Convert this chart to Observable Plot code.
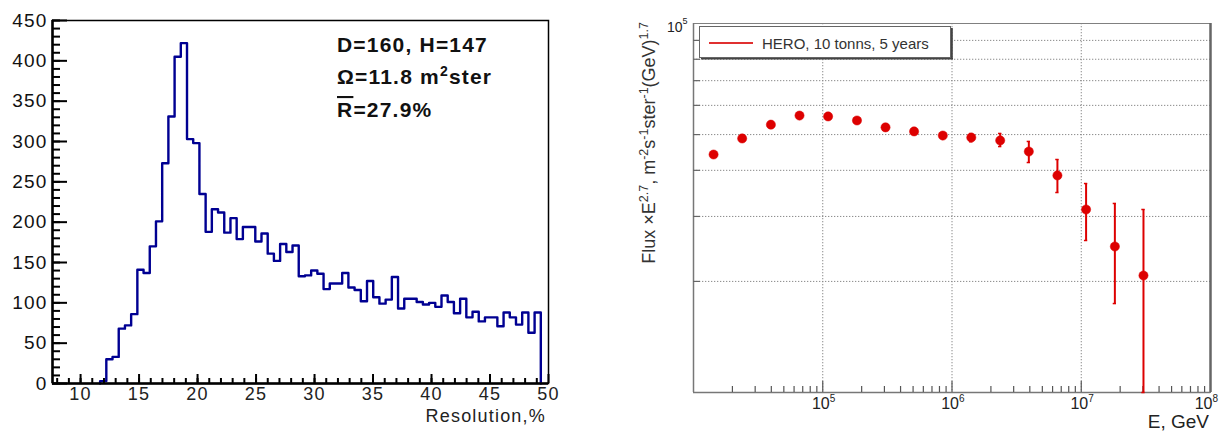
<!DOCTYPE html>
<html>
<head>
<meta charset="utf-8">
<script src="https://cdn.jsdelivr.net/npm/d3@7"></script>
<script src="https://cdn.jsdelivr.net/npm/@observablehq/plot@0.6"></script>
<style>
  body { margin: 0; background: #fff; width: 1220px; height: 432px; overflow: hidden; position: relative; }
  #left { position: absolute; left: 0; top: 0; }
  #right { position: absolute; left: 600px; top: 0; }
  #left svg text { letter-spacing: 1.2px; }
  svg { overflow: visible; }
</style>
</head>
<body>
<div id="left"></div>
<div id="right"></div>
<script>
// ---------- Resolution histogram ----------
const binStart = 11.67;   // lower edge of the first filled bin, %
const binWidth = 0.5306;  // bin width, %
const counts = [3, 30, 33, 68, 72, 86, 141, 137, 170, 201, 273, 331, 405, 422, 303, 298, 235, 188,
  216, 212, 187, 205, 179, 194, 194, 176, 186, 161, 152, 173, 163, 171, 133, 134, 140, 136, 117,
  124, 124, 137, 119, 116, 102, 127, 107, 99, 104, 132, 93, 105, 105, 101, 98, 100, 95, 109, 101,
  87, 105, 82, 89, 77, 82, 82, 71, 88, 82, 73, 88, 63, 88];
const histYTicks = [0, 50, 100, 150, 200, 250, 300, 350, 400, 450];
const histXTicks = [10, 15, 20, 25, 30, 35, 40, 45, 50];
const histXTitle = "Resolution,%";

// ---------- Flux spectrum ----------
const energy = [1.43e4, 2.38e4, 3.97e4, 6.61e4, 1.10e5, 1.84e5, 3.06e5, 5.09e5, 8.49e5,
  1.41e6, 2.36e6, 3.93e6, 6.54e6, 1.09e7, 1.82e7, 3.03e7];
const flux   = [44150, 48800, 53200, 56300, 56000, 54600, 52300, 51000, 49700,
  49100, 48200, 44980, 38750, 31330, 24870, 20750];
const fluxLo = [43700, 48300, 52700, 55800, 55400, 54000, 51700, 50300, 48900,
  47800, 46400, 42000, 34830, 25820, 17420, 10000];
const fluxHi = [44600, 49300, 53700, 56900, 56600, 55200, 52900, 51700, 50500,
  50300, 50350, 47900, 42800, 36840, 32530, 31330];
const energyLabelTicks = [1e5, 1e6, 1e7, 1e8];
const fluxGrid = [2e4, 3e4, 4e4, 5e4, 6e4, 7e4, 8e4, 9e4];
const legendLabel = "HERO, 10 tonns, 5 years";

const FONT = "Liberation Sans, Arial, Helvetica, sans-serif";

// ======== left panel ========
{
  const W = 560, H = 432, mL = 52, mR = 12, mT = 20, mB = 49;
  const pw = W - mL - mR, ph = H - mT - mB;
  const xDom = [7.6, 50];
  const end = binStart + counts.length * binWidth;
  const pts = [{x: binStart, y: 0}]
    .concat(counts.map((c, i) => ({x: binStart + i * binWidth, y: c})))
    .concat([{x: end, y: 0}]);
  const yMinor = d3.range(0, 451, 10);
  const xMinor = d3.range(8, 50, 1);

  const chart = Plot.plot({
    width: W, height: H,
    marginLeft: mL, marginRight: mR, marginTop: mT, marginBottom: mB,
    style: {fontFamily: FONT, background: "transparent", color: "#111"},
    x: {domain: xDom, axis: null},
    y: {domain: [0, 450], axis: null},
    marks: [
      Plot.frame({stroke: "#000", strokeWidth: 1.5}),
      Plot.lineY(pts, {x: "x", y: "y", curve: "step-after", stroke: "#000092", strokeWidth: 2.4}),
      Plot.ruleX([xDom[0]], {stroke: "#000", strokeWidth: 2.5}),
      Plot.ruleY([0], {stroke: "#000", strokeWidth: 2.5}),
      Plot.tickY(histYTicks, {y: d => d, insetRight: pw - 15, stroke: "#000", strokeWidth: 2}),
      Plot.tickY(yMinor, {y: d => d, insetRight: pw - 8, stroke: "#000", strokeWidth: 2}),
      Plot.tickX(histXTicks, {x: d => d, insetTop: ph - 9, stroke: "#000", strokeWidth: 2}),
      Plot.tickX(xMinor, {x: d => d, insetTop: ph - 5, stroke: "#000", strokeWidth: 2}),
      Plot.axisY(histYTicks, {anchor: "left", tickSize: 0, tickPadding: 5, fontSize: 19, fill: "#111", label: null}),
      Plot.axisX(histXTicks, {anchor: "bottom", tickSize: 0, tickPadding: 4, fontSize: 18, fill: "#222", label: null})
    ]
  });
  document.getElementById("left").appendChild(chart);

  const svg = d3.select(chart);
  svg.append("text")
    .attr("x", 546).attr("y", 422)
    .attr("text-anchor", "end")
    .attr("font-family", FONT).attr("font-size", 18).attr("fill", "#222")
    .text(histXTitle);

  const note = svg.append("g")
    .attr("text-anchor", "start")
    .attr("font-family", FONT).attr("font-size", 21).attr("font-weight", "bold").attr("fill", "#111");
  note.append("text").attr("x", 337).attr("y", 52).text("D=160, H=147");
  const l2 = note.append("text").attr("x", 337).attr("y", 84);
  l2.append("tspan").text("Ω=11.8 m");
  l2.append("tspan").attr("dy", -8).attr("font-size", 14).text("2");
  l2.append("tspan").attr("dy", 8).text("ster");
  const l3 = note.append("text").attr("x", 337).attr("y", 117);
  l3.append("tspan").attr("style", "text-decoration: overline").text("R");
  l3.append("tspan").text("=27.9%");
}

// ======== right panel ========
{
  const W = 620, H = 432, mL = 93, mR = 10, mT = 23, mB = 40;
  const pw = W - mL - mR, ph = H - mT - mB;
  const red = "#dd0000";
  const spec = energy.map((e, i) => ({e, f: flux[i], lo: fluxLo[i], hi: fluxHi[i]}));
  const decades = [1e4, 1e5, 1e6, 1e7];
  const xMinor = [];
  for (const d of decades) for (let k = 2; k <= 9; k++) xMinor.push(k * d);
  const grid = {stroke: "#8a8a8a", strokeWidth: 1, strokeDasharray: "1.3,1.7"};
  // the last label sits on the frame edge; nudge it inward so it stays on the page
  const labelShift = d => (d >= 1e8 ? -3 : 0);

  const chart = Plot.plot({
    width: W, height: H,
    marginLeft: mL, marginRight: mR, marginTop: mT, marginBottom: mB,
    style: {fontFamily: FONT, background: "transparent", color: "#222"},
    x: {type: "log", domain: [1e4, 1e8], axis: null},
    y: {type: "log", domain: [1e4, 1e5], axis: null},
    marks: [
      Plot.ruleY(fluxGrid, {y: d => d, ...grid}),
      Plot.ruleX([1e5, 1e6, 1e7], {x: d => d, ...grid}),
      Plot.frame({stroke: "#808080", strokeWidth: 1}),
      Plot.ruleX([1e4], {stroke: "#777", strokeWidth: 1.5}),
      Plot.ruleY([1e4], {stroke: "#777", strokeWidth: 1.5}),
      Plot.ruleX([1e8], {stroke: "#666", strokeWidth: 2.5}),
      Plot.tickY(fluxGrid, {y: d => d, insetRight: pw - 7, stroke: "#666", strokeWidth: 1.2}),
      Plot.tickX([1e5, 1e6, 1e7], {x: d => d, insetTop: ph - 11, stroke: "#555", strokeWidth: 1.2}),
      Plot.tickX(xMinor, {x: d => d, insetTop: ph - 6, stroke: "#555", strokeWidth: 1.2}),
      Plot.ruleX(spec, {x: "e", y1: "lo", y2: "hi", stroke: red, strokeWidth: 2}),
      Plot.ruleY(spec, {y: "hi", x1: d => d.e / 1.03, x2: d => d.e * 1.03, stroke: red, strokeWidth: 1.5}),
      Plot.ruleY(spec, {y: "lo", x1: d => d.e / 1.03, x2: d => d.e * 1.03, stroke: red, strokeWidth: 1.5}),
      Plot.dot(spec, {x: "e", y: "f", r: 4.6, fill: red, stroke: red, strokeWidth: 0.5}),
      Plot.text(energyLabelTicks.filter(d => d < 1e8), {x: d => d, frameAnchor: "bottom", text: () => "10",
        textAnchor: "end", dx: 7, dy: 16, fontSize: 16, fill: "#222"}),
      Plot.text(energyLabelTicks.filter(d => d < 1e8), {x: d => d, frameAnchor: "bottom", text: d => String(Math.round(Math.log10(d))),
        textAnchor: "start", dx: 7, dy: 9, fontSize: 10, fill: "#222"}),
      Plot.text(energyLabelTicks.filter(d => d >= 1e8), {x: d => d, frameAnchor: "bottom", text: () => "10",
        textAnchor: "end", dx: 2, dy: 16, fontSize: 16, fill: "#222"}),
      Plot.text(energyLabelTicks.filter(d => d >= 1e8), {x: d => d, frameAnchor: "bottom", text: d => String(Math.round(Math.log10(d))),
        textAnchor: "start", dx: 2, dy: 9, fontSize: 10, fill: "#222"}),
      Plot.text([1e5], {y: d => d, frameAnchor: "left", text: () => "10",
        textAnchor: "end", dx: -11, dy: 4, fontSize: 14, fill: "#222"}),
      Plot.text([1e5], {y: d => d, frameAnchor: "left", text: () => "5",
        textAnchor: "start", dx: -11, dy: -2, fontSize: 9, fill: "#222"})
    ]
  });
  document.getElementById("right").appendChild(chart);

  const svg = d3.select(chart);

  // axis titles
  svg.append("text")
    .attr("x", 609).attr("y", 428)
    .attr("text-anchor", "end")
    .attr("font-family", FONT).attr("font-size", 19).attr("fill", "#222")
    .text("E, GeV");

  const yt = svg.append("text")
    .attr("transform", "translate(55,22) rotate(-90)")
    .attr("text-anchor", "end")
    .attr("font-family", FONT).attr("font-size", 18).attr("fill", "#333");
  const parts = [["Flux ×E", 0], ["2.7", 1], [", m", 0], ["-2", 1], ["s", 0], ["-1", 1],
    ["ster", 0], ["-1", 1], ["(GeV)", 0], ["1.7", 1]];
  let sup = false;
  for (const [t, s] of parts) {
    const ts = yt.append("tspan").text(t);
    if (s && !sup) { ts.attr("dy", -7).attr("font-size", 12.5); sup = true; }
    else if (s) { ts.attr("font-size", 12.5); }
    else if (sup) { ts.attr("dy", 7); sup = false; }
  }

  // legend box
  const lg = svg.append("g").attr("text-anchor", "start");
  lg.append("rect").attr("x", 101).attr("y", 58).attr("width", 252).attr("height", 1.5).attr("fill", "#444");
  lg.append("rect").attr("x", 351).attr("y", 28).attr("width", 1.8).attr("height", 31).attr("fill", "#444");
  lg.append("rect").attr("x", 99.5).attr("y", 26.5).attr("width", 251).attr("height", 31)
    .attr("fill", "#fff").attr("stroke", "#666").attr("stroke-width", 1);
  lg.append("line").attr("x1", 109).attr("x2", 153).attr("y1", 43).attr("y2", 43)
    .attr("stroke", "#e03030").attr("stroke-width", 1.8);
  lg.append("text").attr("x", 162).attr("y", 48.5)
    .attr("font-family", FONT).attr("font-size", 15).attr("fill", "#333")
    .text(legendLabel);
}
</script>
</body>
</html>
